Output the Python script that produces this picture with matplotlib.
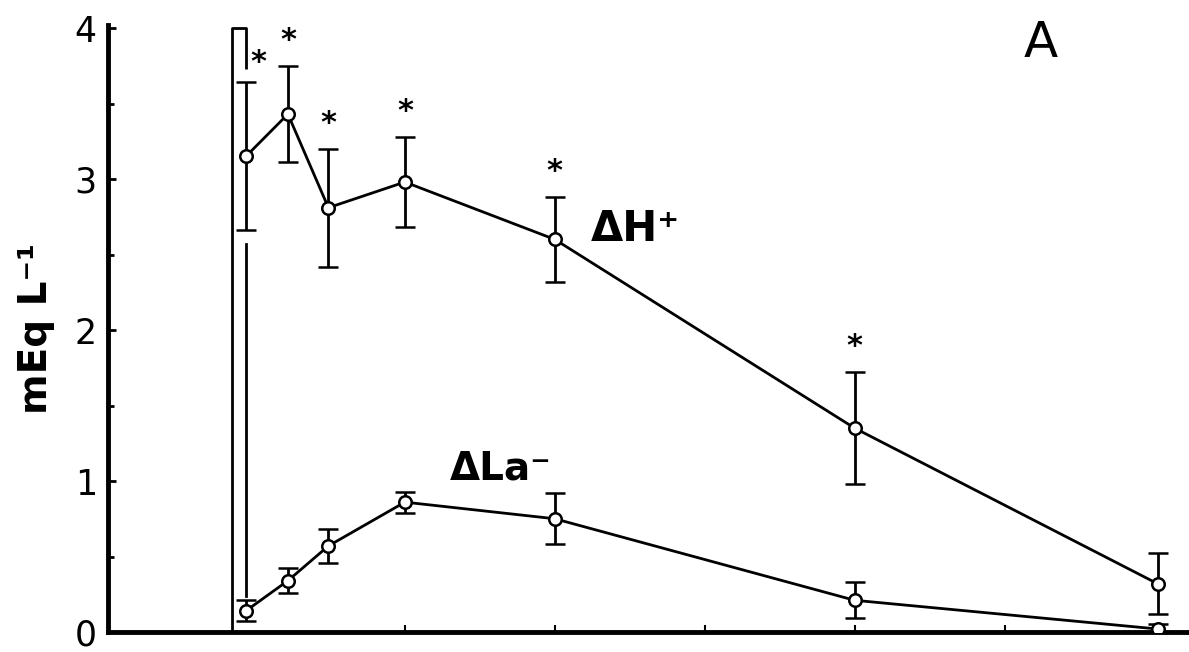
import matplotlib
matplotlib.use('Agg')
import matplotlib.pyplot as plt
import numpy as np

# recovery time (min) after the exercise bout
t = [-0.3, 1.1, 2.45, 5, 10, 20, 30.1]

dH = [3.15, 3.43, 2.81, 2.98, 2.60, 1.35, 0.32]
dH_err = [0.49, 0.32, 0.39, 0.30, 0.28, 0.37, 0.20]
dH_sig = [True, True, True, True, True, True, False]

dLa = [0.14, 0.34, 0.57, 0.86, 0.75, 0.21, 0.02]
dLa_err = [0.07, 0.085, 0.11, 0.07, 0.17, 0.12, 0.03]

# exercise period shown as an open bar
ex_start, ex_end = -0.77, -0.3
ex_height = 4.0

plt.rcParams['font.family'] = 'DejaVu Sans'

fig = plt.figure(figsize=(11.89, 6.52), dpi=100)
ax = fig.add_axes([108 / 1189, 20 / 652, 1081 / 1189, 607 / 652])

ax.plot([ex_start, ex_start, ex_end, ex_end], [0, ex_height, ex_height, 3.73],
        color='black', lw=2, solid_capstyle='butt', zorder=2)
ax.plot([ex_end, ex_end], [2.57, 0.24], color='black', lw=2, zorder=2)

style = dict(color='black', lw=2, marker='o', ms=9, mfc='white', mec='black',
             mew=1.8, ecolor='black', elinewidth=2, capsize=7, capthick=2.5, zorder=3)
ax.errorbar(t, dH, yerr=dH_err, **style)
ax.errorbar(t, dLa, yerr=dLa_err, **style)

for i, (x, y, e, s) in enumerate(zip(t, dH, dH_err, dH_sig)):
    if not s:
        continue
    off = (9, 4) if i == 0 else (0, 8)
    ax.annotate('*', xy=(x, y + e), xytext=off, textcoords='offset points',
                ha='center', va='bottom', fontsize=22, fontweight='bold')

ax.text(12.7, 2.67, 'ΔH⁺', fontsize=30, fontweight='bold', ha='center', va='center')
ax.text(8.2, 1.08, 'ΔLa⁻', fontsize=28, fontweight='bold', ha='center', va='center')
ax.text(26.2, 3.9, 'A', fontsize=36, ha='center', va='center')

ax.set_xlim(-4.9, 31.15)
ax.set_ylim(0, 4.02)
ax.set_yticks([0, 1, 2, 3, 4])
ax.set_yticks([0.5, 1.5, 2.5, 3.5], minor=True)
ax.set_xticks([5, 10, 15, 20, 25, 30])
ax.tick_params(axis='y', direction='in', length=6, width=2, labelsize=25, pad=8)
ax.tick_params(axis='y', which='minor', direction='in', length=4, width=2)
ax.tick_params(axis='x', direction='in', length=5, width=1.5, labelbottom=False)

for side in ['top', 'right']:
    ax.spines[side].set_visible(False)
ax.spines['left'].set_linewidth(3.5)
ax.spines['bottom'].set_linewidth(3.5)

ax.set_ylabel('mEq L⁻¹', fontsize=28, fontweight='bold', labelpad=14)

fig.savefig('out.png', dpi=100)
